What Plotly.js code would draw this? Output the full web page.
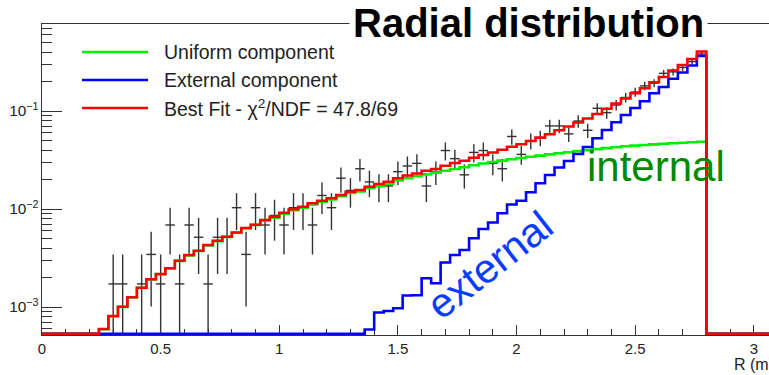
<!DOCTYPE html>
<html><head><meta charset="utf-8">
<script src="https://cdn.plot.ly/plotly-3.0.1.min.js"></script>
<style>html,body{margin:0;padding:0;background:#fff;overflow:hidden}#chart{width:769px;height:375px}</style>
</head><body><div id="chart"></div>
<script>
// ---- histogram binning (0 .. 3.2 m, 0.04 m bins) ----
const binWidth = 0.04;

// Best fit (red), per bin
const bestFit = [0,0,0,0,0,0,
  5.96e-4,8.09e-4,1.007e-3,1.256e-3,1.574e-3,1.918e-3,2.171e-3,2.482e-3,2.968e-3,3.393e-3,
  3.753e-3,4.292e-3,4.748e-3,5.217e-3,5.757e-3,6.399e-3,6.915e-3,7.72e-3,8.34e-3,9.17e-3,
  9.93e-3,1.056e-2,1.143e-2,1.215e-2,1.286e-2,1.390e-2,1.501e-2,1.563e-2,1.689e-2,1.799e-2,
  1.900e-2,2.057e-2,2.197e-2,2.303e-2,2.454e-2,2.560e-2,2.759e-2,2.946e-2,3.102e-2,3.330e-2,
  3.556e-2,3.771e-2,4.027e-2,4.311e-2,4.582e-2,4.943e-2,5.354e-2,5.799e-2,6.354e-2,6.947e-2,
  7.63e-2,8.386e-2,9.32e-2,0.1053,0.1193,0.1345,0.1516,0.1709,0.1963,0.2222,
  0.2590,0.2947,0.3394,0.4047,
  0,0,0,0,0,0,0,0,0,0];

// Uniform component (green), per bin
const uniformComp = [0,0,0,0,0,0,
  5.93e-4,8.05e-4,1.002e-3,1.250e-3,1.566e-3,1.908e-3,2.160e-3,2.470e-3,2.953e-3,3.360e-3,
  3.734e-3,4.250e-3,4.700e-3,5.190e-3,5.728e-3,6.367e-3,6.880e-3,7.65e-3,8.15e-3,8.96e-3,
  9.70e-3,1.031e-2,1.115e-2,1.184e-2,1.252e-2,1.351e-2,1.456e-2,1.514e-2,1.630e-2,1.713e-2,
  1.807e-2,1.957e-2,2.067e-2,2.163e-2,2.255e-2,2.351e-2,2.454e-2,2.560e-2,2.670e-2,2.792e-2,
  2.913e-2,3.017e-2,3.117e-2,3.214e-2,3.314e-2,3.408e-2,3.506e-2,3.607e-2,3.702e-2,3.799e-2,
  3.898e-2,3.990e-2,4.084e-2,4.181e-2,4.270e-2,4.362e-2,4.436e-2,4.498e-2,4.562e-2,4.626e-2,
  4.681e-2,4.736e-2,4.792e-2,4.859e-2,
  0,0,0,0,0,0,0,0,0,0];

// External component (blue), per bin
const externalComp = [0,0,0,0,0,0,0,0,0,0,
  0,0,0,0,0,0,0,0,0,0,
  0,0,0,0,0,0,0,0,0,0,
  0,0,0,0,
  5.89e-4,8.79e-4,9.10e-4,9.70e-4,1.310e-3,1.320e-3,1.963e-3,1.745e-3,2.845e-3,3.393e-3,
  3.816e-3,5.024e-3,6.25e-3,7.28e-3,9.04e-3,1.111e-2,1.213e-2,1.484e-2,1.829e-2,2.223e-2,
  2.652e-2,3.089e-2,3.639e-2,4.293e-2,5.266e-2,6.398e-2,7.686e-2,9.10e-2,0.1073,0.1259,
  0.1516,0.1758,0.2131,0.2471,0.2912,0.3641,
  0,0,0,0,0,0,0,0,0,0];

// Data points (bin centres, value, error)
const dataR = [0.30,0.34,0.42,0.46,0.50,0.54,0.58,0.62,0.66,0.70,0.74,0.78,0.82,0.86,0.90,0.94,
  0.98,1.02,1.06,1.10,1.14,1.18,1.22,1.26,1.30,1.34,1.38,1.42,1.46,1.50,1.54,1.58,1.62,1.66,
  1.70,1.74,1.78,1.82,1.86,1.90,1.94,1.98,2.02,2.06,2.10,2.14,2.18,2.22,2.26,2.30,2.34,2.38,
  2.42,2.46,2.50,2.54,2.58,2.62,2.66,2.70,2.74,2.78];
const dataVal = [0.00172,0.00172,0.00172,0.00344,0.00172,0.00687,0.00172,0.00687,0.00515,0.00172,
  0.00515,0.00515,0.01031,0.00344,0.01031,0.00687,0.00859,0.00687,0.01031,0.01031,
  0.00687,0.01374,0.01031,0.02062,0.01546,0.02577,0.01890,0.01718,0.01718,0.02405,
  0.02749,0.02921,0.01718,0.02405,0.03951,0.03264,0.02233,0.03780,0.03951,0.02921,
  0.02577,0.05498,0.03608,0.04982,0.05326,0.07044,0.07044,0.05841,0.07903,0.06357,
  0.10652,0.09621,0.11511,0.13744,0.15634,0.18039,0.19242,0.24224,0.25083,0.27832,
  0.31955,0.38140];
const dataErr = [0.00172,0.00172,0.00172,0.00243,0.00172,0.00344,0.00172,0.00344,0.00298,0.00172,
  0.00298,0.00298,0.00421,0.00243,0.00421,0.00344,0.00384,0.00344,0.00421,0.00421,
  0.00344,0.00486,0.00421,0.00595,0.00515,0.00665,0.00570,0.00543,0.00543,0.00643,
  0.00687,0.00708,0.00543,0.00643,0.00824,0.00749,0.00619,0.00806,0.00824,0.00708,
  0.00665,0.00972,0.00787,0.00925,0.00957,0.01100,0.01100,0.01002,0.01165,0.01045,
  0.01353,0.01286,0.01406,0.01537,0.01639,0.01760,0.01818,0.02040,0.02076,0.02187,
  0.02343,0.02560];

const legendLabels = ['Uniform component','External component','Best Fit - \u03c7<sup>2</sup>/NDF = 47.8/69'];
const colors = {uniform:'#00ee00', external:'#0000ff', fit:'#ff0000', data:'#333333'};

const xRange = [0, 3.064];
const yRange = [-3.2857, -0.1122];
const floorVal = Math.pow(10, yRange[0] + 0.012); // empty bins drawn on the frame, as ROOT does

function stepXY(vals){
  const x = [], y = [];
  for (let i = 0; i < vals.length; i++){ x.push(i*binWidth); y.push(vals[i] > 0 ? vals[i] : floorVal); }
  x.push(vals.length*binWidth); y.push(y[y.length-1]);
  return {x, y};
}

const FONT = 'Liberation Sans, Arial, Helvetica, sans-serif';
const g = stepXY(uniformComp), b = stepXY(externalComp), r = stepXY(bestFit);

const traces = [
  {x: dataR, y: dataVal, type:'scatter', mode:'markers', marker:{size:1, color:'rgba(0,0,0,0)'},
   error_y:{type:'data', array:dataErr, visible:true, width:0, thickness:1.4, color:colors.data},
   error_x:{type:'constant', value:binWidth/2, visible:true, width:0, thickness:1.4, color:colors.data},
   showlegend:false, hoverinfo:'skip'},
  {x:g.x, y:g.y, type:'scatter', mode:'lines', line:{shape:'hv', color:colors.uniform, width:2.6}, showlegend:false},
  {x:b.x, y:b.y, type:'scatter', mode:'lines', line:{shape:'hv', color:colors.external, width:2.6}, showlegend:false},
  {x:r.x, y:r.y, type:'scatter', mode:'lines', line:{shape:'hv', color:colors.fit, width:2.6}, showlegend:false}
];

const L = 42, T = 24, PW = 727, PH = 311;
const px = v => (v - L)/PW;          // pixel -> paper x
const py = v => (T + PH - v)/PH;     // pixel -> paper y

const legendY = [52, 80, 108];
const legendCol = [colors.uniform, colors.external, colors.fit];
const shapes = legendY.map((yy,i)=>({type:'line', xref:'paper', yref:'paper', x0:px(82), x1:px(148), y0:py(yy), y1:py(yy),
  line:{color:legendCol[i], width:2.6}}));
const annotations = legendY.map((yy,i)=>({xref:'paper', yref:'paper', x:px(162), y:py(yy), xanchor:'left', yanchor:'middle',
  text:legendLabels[i], showarrow:false, font:{family:FONT, size:19.5, color:'#222'}}));

annotations.push({xref:'paper', yref:'paper', x:px(528), y:py(23), xanchor:'center', yanchor:'middle',
  text:'<b>Radial distribution</b>', showarrow:false, bgcolor:'#ffffff', borderpad:3,
  font:{family:FONT, size:40, color:'#000'}});
annotations.push({xref:'paper', yref:'paper', x:px(585), y:py(166), xanchor:'left', yanchor:'middle',
  text:'internal', showarrow:false, font:{family:FONT, size:42, color:'#008a00'}});
annotations.push({xref:'paper', yref:'paper', x:px(490), y:py(265), xanchor:'center', yanchor:'middle',
  text:'external', textangle:-38, showarrow:false, font:{family:FONT, size:41, color:'#0a3cff'}});
annotations.push({xref:'paper', yref:'paper', x:px(732), y:py(364), xanchor:'left', yanchor:'middle',
  text:'R (m)', showarrow:false, font:{family:FONT, size:16, color:'#222'}});

const layout = {
  width:769, height:375, margin:{l:L, r:0, t:T, b:375-T-PH, pad:0},
  paper_bgcolor:'#fff', plot_bgcolor:'#fff', showlegend:false,
  font:{family:FONT, color:'#222'},
  xaxis:{range:xRange, showline:true, mirror:true, linecolor:'#333', linewidth:1, layer:'below traces',
    ticks:'inside', ticklen:10, tickwidth:1, tickcolor:'#333', tick0:0, dtick:0.5,
    minor:{ticks:'inside', ticklen:6, dtick:0.1, tickcolor:'#333', tickwidth:1, showgrid:false},
    showgrid:false, zeroline:false, tickfont:{family:FONT, size:15, color:'#222'}},
  yaxis:{type:'log', range:yRange, showline:true, mirror:false, linecolor:'#333', linewidth:1, layer:'below traces',
    ticks:'inside', ticklen:20, tickwidth:1, tickcolor:'#333', dtick:1, exponentformat:'power',
    minor:{ticks:'inside', ticklen:10, dtick:'D1', tickcolor:'#333', tickwidth:1, showgrid:false},
    showgrid:false, zeroline:false, tickfont:{family:FONT, size:12.3, color:'#222'}},
  shapes, annotations
};

Plotly.newPlot('chart', traces, layout, {staticPlot:true, displayModeBar:false});
</script></body></html>
